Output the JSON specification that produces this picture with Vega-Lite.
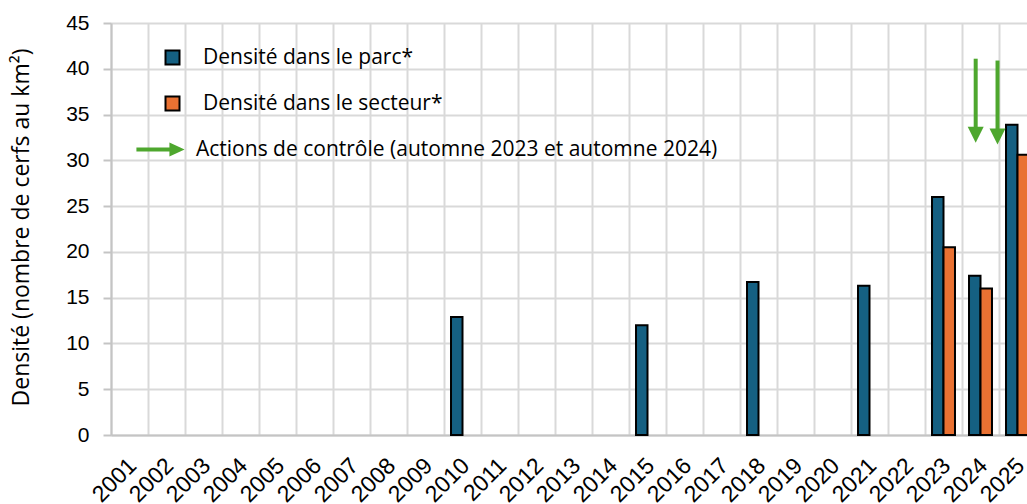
{
  "$schema": "https://vega.github.io/schema/vega-lite/v6.json",
  "autosize": {"type": "none"},
  "width": 916,
  "height": 412,
  "padding": {"left": 111, "top": 23, "right": 0, "bottom": 69},
  "background": "white",
  "config": {"view": {"stroke": null}},
  "layer": [
    {
      "data": {
        "values": [
          {"annee": "2010", "serie": "Densité dans le parc*", "densite": 12.9},
          {"annee": "2015", "serie": "Densité dans le parc*", "densite": 12.0},
          {"annee": "2018", "serie": "Densité dans le parc*", "densite": 16.7},
          {"annee": "2021", "serie": "Densité dans le parc*", "densite": 16.3},
          {"annee": "2023", "serie": "Densité dans le parc*", "densite": 26.0},
          {"annee": "2023", "serie": "Densité dans le secteur*", "densite": 20.5},
          {"annee": "2024", "serie": "Densité dans le parc*", "densite": 17.4},
          {"annee": "2024", "serie": "Densité dans le secteur*", "densite": 16.0},
          {"annee": "2025", "serie": "Densité dans le parc*", "densite": 33.9},
          {"annee": "2025", "serie": "Densité dans le secteur*", "densite": 30.6}
        ]
      },
      "mark": {"type": "bar", "stroke": "black", "strokeWidth": 2},
      "encoding": {
        "x": {
          "field": "annee",
          "type": "nominal",
          "scale": {
            "domain": ["2001","2002","2003","2004","2005","2006","2007","2008","2009","2010","2011","2012","2013","2014","2015","2016","2017","2018","2019","2020","2021","2022","2023","2024","2025"],
            "range": [0, 925],
            "paddingInner": 0,
            "paddingOuter": 0
          },
          "axis": {
            "title": null,
            "labelAngle": -45,
            "labelFont": "Liberation Sans",
            "labelFontSize": 23,
            "labelColor": "black",
            "labelPadding": 19,
            "labelOffset": -5,
            "ticks": false,
            "tickBand": "extent",
            "grid": true,
            "gridColor": "#d9d9d9",
            "gridWidth": 2,
            "domainColor": "#c4c4c4",
            "domainWidth": 2
          }
        },
        "xOffset": {
          "field": "serie",
          "type": "nominal",
          "scale": {"domain": ["Densité dans le parc*", "Densité dans le secteur*"], "paddingInner": 0, "paddingOuter": 0.61}
        },
        "y": {
          "field": "densite",
          "type": "quantitative",
          "scale": {"domain": [0, 45], "nice": false},
          "axis": {
            "title": "Densité (nombre de cerfs au km²)",
            "titleFont": "Open Sans",
            "titleFontSize": 23,
            "titleFontWeight": "normal",
            "titleColor": "black",
            "titleX": -78,
            "titleY": 204,
            "values": [0, 5, 10, 15, 20, 25, 30, 35, 40, 45],
            "labelFont": "Liberation Sans",
            "labelFontSize": 21,
            "labelColor": "black",
            "labelPadding": 14,
            "tickSize": 8,
            "tickColor": "#c4c4c4",
            "tickWidth": 2,
            "grid": true,
            "gridColor": "#d9d9d9",
            "gridWidth": 2,
            "domainColor": "#c4c4c4",
            "domainWidth": 2
          }
        },
        "color": {
          "field": "serie",
          "type": "nominal",
          "scale": {
            "domain": ["Densité dans le parc*", "Densité dans le secteur*", "Actions de contrôle (automne 2023 et automne 2024)"],
            "range": ["#156082", "#E97132", "#4EA72E"]
          },
          "legend": {
            "title": null,
            "orient": "none",
            "legendX": 51,
            "legendY": 24,
            "padding": 0,
            "symbolSize": 1936,
            "symbolStrokeColor": "black",
            "symbolStrokeWidth": 2,
            "symbolOpacity": 1,
            "labelFont": "Open Sans",
            "labelFontSize": 21,
            "labelColor": "black",
            "labelOffset": 13,
            "labelLimit": 700,
            "rowPadding": 23,
            "encode": {
              "symbols": {
                "update": {
                  "shape": {"signal": "datum.value === 'Actions de contrôle (automne 2023 et automne 2024)' ? 'M -1.64 -0.09 L -0.14 -0.09 L -0.14 -0.32 L 0.55 0 L -0.14 0.32 L -0.14 0.09 L -1.64 0.09 Z' : 'square'"},
                  "size": {"signal": "datum.value === 'Actions de contrôle (automne 2023 et automne 2024)' ? 1936 : 196"},
                  "strokeWidth": {"signal": "datum.value === 'Actions de contrôle (automne 2023 et automne 2024)' ? 0 : 2"},
                  "stroke": {"value": "black"}
                }
              },
              "labels": {
                "update": {
                  "dx": {"signal": "datum.value === 'Actions de contrôle (automne 2023 et automne 2024)' ? 0 : 7"}
                }
              }
            }
          }
        }
      }
    },
    {
      "data": {
        "values": [
          {"moment": 2023.87, "haut": 41.1, "tete": 32.8},
          {"moment": 2024.46, "haut": 40.9, "tete": 32.6}
        ]
      },
      "layer": [
        {
          "mark": {"type": "rule", "color": "#4EA72E", "strokeWidth": 4},
          "encoding": {
            "x": {"field": "moment", "type": "quantitative", "scale": {"domain": [2000.5, 2025.5], "range": [0, 925], "nice": false, "zero": false}, "axis": null},
            "y": {"field": "haut", "type": "quantitative"},
            "y2": {"field": "tete"}
          }
        },
        {
          "mark": {"type": "point", "shape": "M -1 -1 L 1 -1 L 0 1 Z", "size": 256, "filled": true, "color": "#4EA72E", "opacity": 1},
          "encoding": {
            "x": {"field": "moment", "type": "quantitative", "scale": {"domain": [2000.5, 2025.5], "range": [0, 925], "nice": false, "zero": false}, "axis": null},
            "y": {"field": "tete", "type": "quantitative"}
          }
        }
      ]
    }
  ],
  "resolve": {"scale": {"x": "independent"}}
}
